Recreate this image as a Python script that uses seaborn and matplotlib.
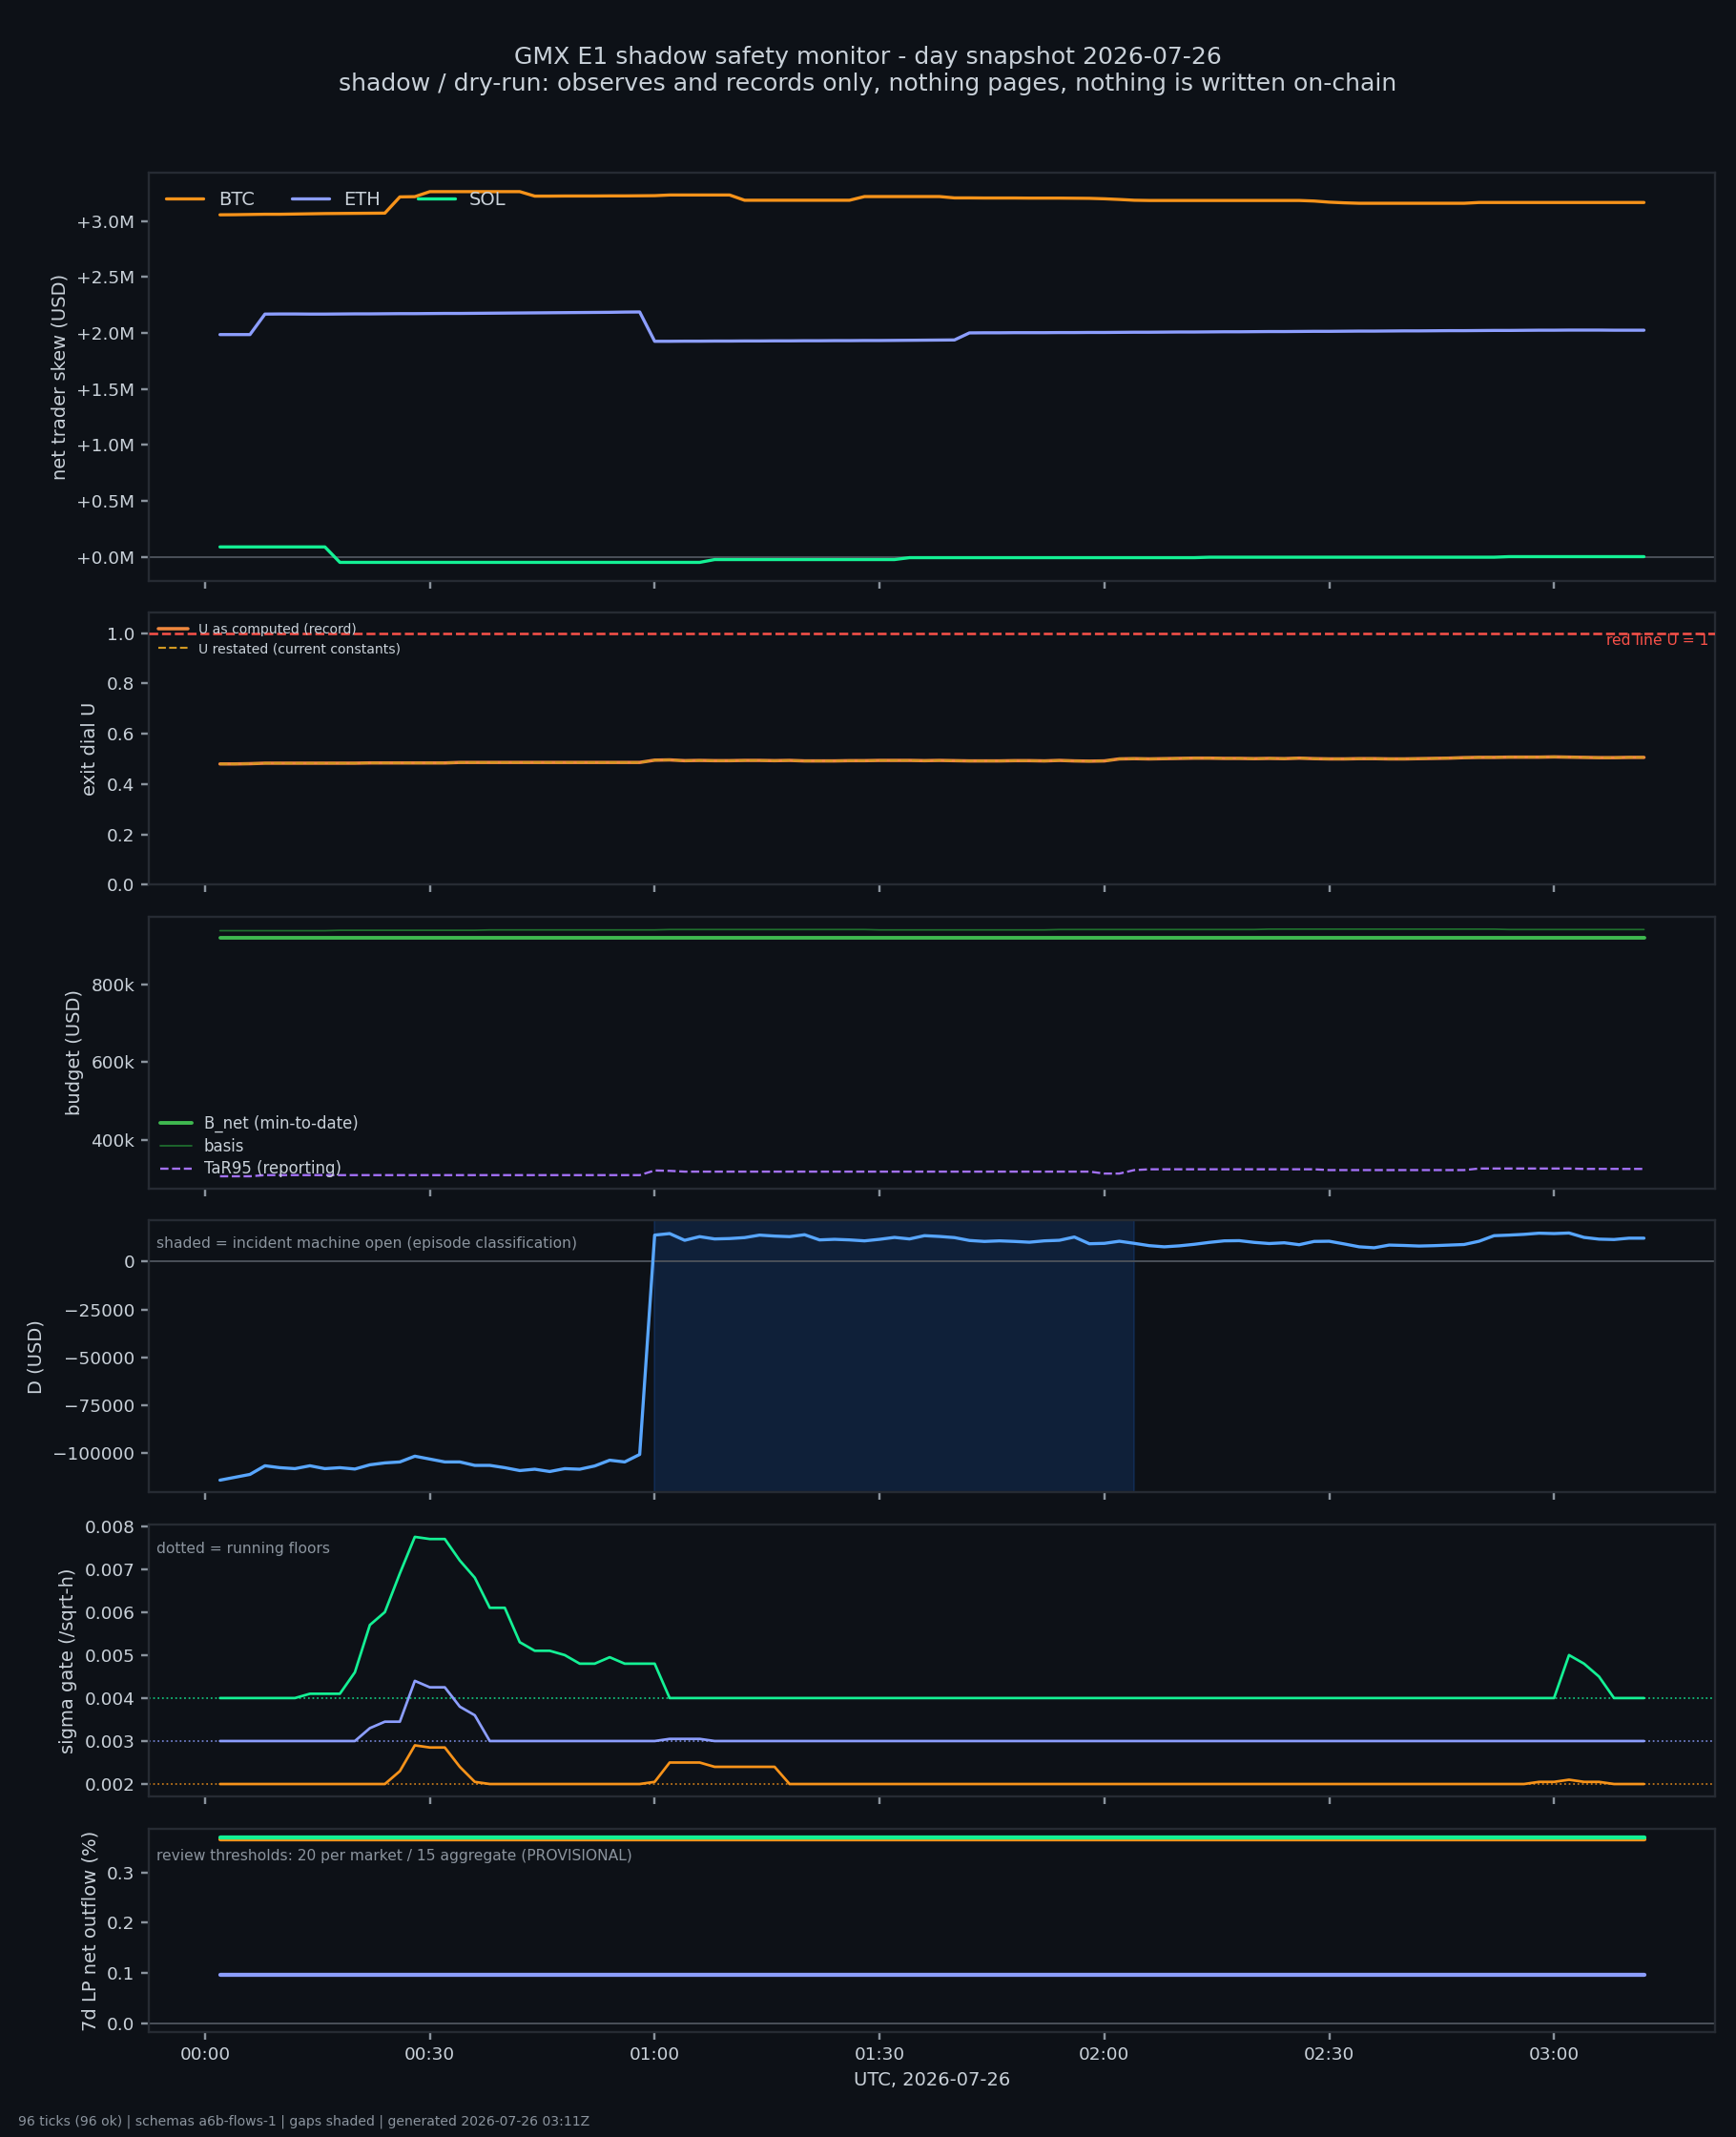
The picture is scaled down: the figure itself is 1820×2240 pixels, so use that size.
import matplotlib
matplotlib.use("Agg")
import matplotlib.pyplot as plt
import matplotlib.dates as mdates
import matplotlib.ticker as mticker
import matplotlib.transforms as mtransforms
import numpy as np
import pandas as pd
import seaborn as sns

# 96 ticks, one every 2 minutes
times = pd.date_range("2026-07-26 00:02", periods=96, freq="2min")

# net trader skew, millions USD
btc_skew_m = (
    [3.055, 3.056, 3.058, 3.060, 3.060, 3.062, 3.064, 3.066, 3.067, 3.068, 3.069, 3.070]
    + [3.215, 3.217]
    + [3.262] * 7
    + [3.222, 3.222, 3.223, 3.223, 3.223, 3.224, 3.224, 3.225, 3.226]
    + [3.232] * 5
    + [3.185] * 8
    + [3.218] * 6
    + [3.206, 3.206, 3.205, 3.205, 3.205, 3.204, 3.204, 3.204, 3.203, 3.202]
    + [3.198, 3.192, 3.185]
    + [3.183] * 11
    + [3.178, 3.168, 3.162, 3.158, 3.158]
    + [3.158] * 6
    + [3.165] * 12
)
eth_skew_m = (
    [1.985, 1.985, 1.985]
    + [2.168, 2.169, 2.169, 2.168, 2.168, 2.169, 2.170, 2.170, 2.171, 2.172,
       2.172, 2.173, 2.174, 2.174, 2.175, 2.176, 2.177, 2.178, 2.179, 2.180,
       2.181, 2.182, 2.183, 2.184, 2.186, 2.187]
    + [1.925, 1.925, 1.926, 1.926, 1.927, 1.927, 1.928, 1.928, 1.929, 1.929,
       1.930, 1.930, 1.931, 1.931, 1.932, 1.932, 1.933, 1.934, 1.935, 1.936,
       1.937]
    + [2.000, 2.001, 2.001, 2.002, 2.002, 2.002, 2.003, 2.003, 2.004, 2.004,
       2.005, 2.006, 2.006, 2.007, 2.008, 2.008, 2.009, 2.010, 2.010, 2.011,
       2.012, 2.012, 2.013, 2.014, 2.014, 2.015, 2.016, 2.016, 2.017, 2.018,
       2.018, 2.019, 2.020, 2.020, 2.021, 2.022, 2.022, 2.023, 2.024, 2.024,
       2.025, 2.025, 2.025, 2.024, 2.024, 2.024]
)
sol_skew_m = [0.088] * 8 + [-0.050] * 25 + [-0.025] * 13 + [-0.008] * 20 + [-0.004] * 20 + [0.001] * 10

# exit dial U
u_record = (
    [0.480, 0.480, 0.481]
    + [0.483] * 7
    + [0.484] * 6
    + [0.486] * 13
    + [0.495, 0.496]
    + [0.493, 0.494, 0.493, 0.493, 0.494, 0.494, 0.493, 0.494, 0.492, 0.492,
       0.492, 0.493, 0.493, 0.494, 0.494, 0.494, 0.493, 0.494, 0.493, 0.492,
       0.492, 0.492, 0.493, 0.493, 0.492, 0.494, 0.492, 0.491, 0.492]
    + [0.500, 0.501, 0.500, 0.501, 0.502, 0.503, 0.503, 0.502, 0.502, 0.501,
       0.502, 0.501, 0.503]
    + [0.501, 0.500, 0.500, 0.501, 0.501, 0.500, 0.500, 0.501]
    + [0.502, 0.503, 0.505, 0.506, 0.506, 0.507, 0.507, 0.507, 0.508, 0.507,
       0.506, 0.505, 0.505, 0.506, 0.506]
)
u_restated = list(u_record)
u_red_line = 1.0

# budget, thousands USD
b_net_k = [919] * 96
basis_k = [938] * 8 + [939] * 10 + [940] * 12 + [941] * 14 + [940] * 12 + [941] * 14 + [942] * 16 + [941] * 10
tar95_k = ([306] * 3 + [309] * 26 + [321, 320] + [318] * 28 + [313, 313] + [322]
           + [324] * 12 + [322] * 10 + [326] * 7 + [325] * 5)

# D, USD
d_usd = [
    -114000, -112500, -111000, -106500, -107500, -108000, -106500, -108000, -107500, -108200,
    -106000, -105000, -104500, -101500, -103000, -104500, -104500, -106300, -106300, -107500,
    -109000, -108300, -109500, -108000, -108300, -106600, -103600, -104500, -100600,
    13800, 14600, 11100, 13000, 11800, 12000, 12500, 13800, 13300, 13000,
    14000, 11300, 11600, 11300, 10800, 11600, 12600, 11800, 13500, 13100,
    12500, 11000, 10500, 10800, 10500, 10100, 10800, 11100, 12800, 9300,
    9500, 10600, 9500, 8300, 7700, 8200, 9000, 10000, 10800, 10900,
    10000, 9400, 9800, 8800, 10500, 10600, 9200, 7700, 7200, 8600,
    8400, 8100, 8300, 8600, 8900, 10600, 13500, 13800, 14200, 14800,
    14600, 14900, 12600, 11700, 11500, 12200, 12200,
]
incident_open_idx = 29
incident_close_idx = 61

# sigma gate (/sqrt-h)
sol_sigma = ([0.004] * 6 + [0.0041] * 3
             + [0.0046, 0.0057, 0.0060, 0.0069, 0.00775, 0.0077, 0.0077, 0.0072, 0.0068, 0.0061,
                0.0061, 0.0053, 0.0051, 0.0051, 0.0050, 0.0048, 0.0048, 0.00495, 0.0048, 0.0048, 0.0048]
             + [0.004] * 60 + [0.0050, 0.0048, 0.0045] + [0.004] * 3)
eth_sigma = ([0.003] * 10 + [0.0033, 0.00345, 0.00345, 0.0044, 0.00425, 0.00425, 0.0038, 0.0036]
             + [0.003] * 12 + [0.00305] * 3 + [0.003] * 63)
btc_sigma = ([0.002] * 12 + [0.0023, 0.0029, 0.00285, 0.00285, 0.0024, 0.00205]
             + [0.002] * 11 + [0.00205] + [0.0025] * 3 + [0.0024] * 5 + [0.002] * 50
             + [0.00205, 0.00205, 0.0021, 0.00205, 0.00205] + [0.002] * 3)
sol_floor, eth_floor, btc_floor = 0.004, 0.003, 0.002

# 7d LP net outflow (%)
btc_lp = [0.367] * 96
eth_lp = [0.096] * 96
sol_lp = [0.370] * 96

# colours
BG = "#0d1117"
EDGE = "#262b33"
FG = "#c9d1d9"
MUTED = "#8b949e"
ZERO = "#4a5059"
C_BTC = "#f7931a"
C_ETH = "#8c9eff"
C_SOL = "#14f195"

sns.set_theme(style="dark", rc={
    "figure.facecolor": BG, "axes.facecolor": BG, "axes.edgecolor": EDGE,
    "axes.labelcolor": FG, "text.color": FG, "xtick.color": MUTED, "ytick.color": MUTED,
    "xtick.labelcolor": FG, "ytick.labelcolor": FG,
    "xtick.bottom": True, "ytick.left": True, "axes.grid": False,
    "xtick.major.size": 4, "ytick.major.size": 4,
    "axes.linewidth": 1.2,
})
plt.rcParams["font.family"] = ["DejaVu Sans"]

fig = plt.figure(figsize=(13, 16), dpi=140)
gs = fig.add_gridspec(6, 1, height_ratios=[1.5, 1, 1, 1, 1, 0.75],
                      left=0.0857, right=0.988, top=0.919, bottom=0.049, hspace=0.113)
axes = [fig.add_subplot(gs[0])]
for k in range(1, 6):
    axes.append(fig.add_subplot(gs[k], sharex=axes[0]))

tick_fs = 9.5
label_fs = 10

# 1: net trader skew
ax = axes[0]
sns.lineplot(x=times, y=btc_skew_m, ax=ax, color=C_BTC, lw=1.7, label="BTC")
sns.lineplot(x=times, y=eth_skew_m, ax=ax, color=C_ETH, lw=1.7, label="ETH")
sns.lineplot(x=times, y=sol_skew_m, ax=ax, color=C_SOL, lw=1.7, label="SOL")
ax.axhline(0, color=ZERO, lw=1, zorder=1)
ax.yaxis.set_major_locator(mticker.MultipleLocator(0.5))
ax.yaxis.set_major_formatter(mticker.FuncFormatter(lambda v, p: f"{v:+.1f}M"))
ax.set_ylabel("net trader skew (USD)", fontsize=label_fs)
ax.legend(loc="upper left", ncol=3, frameon=False, fontsize=10, borderaxespad=0.55)

# 2: exit dial U
ax = axes[1]
sns.lineplot(x=times, y=u_record, ax=ax, color="#f0883e", lw=1.8, label="U as computed (record)")
sns.lineplot(x=times, y=u_restated, ax=ax, color="#d29922", lw=1.1, ls="--", label="U restated (current constants)")
ax.axhline(u_red_line, color="#f85149", lw=1.3, ls="--", zorder=3)
ax.text(0.996, u_red_line - 0.003, "red line U = 1", color="#f85149", fontsize=8, ha="right", va="top",
        transform=mtransforms.blended_transform_factory(ax.transAxes, ax.transData))
ax.set_ylim(0, 1.08)
ax.yaxis.set_major_locator(mticker.MultipleLocator(0.2))
ax.yaxis.set_major_formatter(mticker.FormatStrFormatter("%.1f"))
ax.set_ylabel("exit dial U", fontsize=label_fs)
ax.legend(loc="upper left", frameon=False, fontsize=7.2, borderaxespad=0.35, handlelength=2.2,
          labelspacing=0.45)

# 3: budget
ax = axes[2]
sns.lineplot(x=times, y=b_net_k, ax=ax, color="#3fb950", lw=2.0, label="B_net (min-to-date)")
sns.lineplot(x=times, y=basis_k, ax=ax, color="#1f6f2e", lw=0.9, label="basis")
sns.lineplot(x=times, y=tar95_k, ax=ax, color="#a371f7", lw=1.2, ls="--", label="TaR95 (reporting)")
ax.yaxis.set_major_locator(mticker.MultipleLocator(200))
ax.yaxis.set_major_formatter(mticker.FuncFormatter(lambda v, p: f"{v:.0f}k"))
ax.set_ylabel("budget (USD)", fontsize=label_fs)
ax.legend(loc="lower left", frameon=False, fontsize=8.5, borderaxespad=0.3, labelspacing=0.35)

# 4: D
ax = axes[3]
ax.axvspan(times[incident_open_idx], times[incident_close_idx], facecolor="#1f6feb", alpha=0.165,
           edgecolor="#1f6feb", lw=1, zorder=0)
sns.lineplot(x=times, y=d_usd, ax=ax, color="#58a6ff", lw=1.7)
ax.axhline(0, color=ZERO, lw=1, zorder=1)
ax.yaxis.set_major_locator(mticker.MultipleLocator(25000))
ax.set_ylabel("D (USD)", fontsize=label_fs)
ax.text(0.005, 0.915, "shaded = incident machine open (episode classification)", transform=ax.transAxes,
        fontsize=8, color=MUTED, va="center", ha="left")

# 5: sigma gate
ax = axes[4]
sns.lineplot(x=times, y=btc_sigma, ax=ax, color=C_BTC, lw=1.4)
sns.lineplot(x=times, y=eth_sigma, ax=ax, color=C_ETH, lw=1.4)
sns.lineplot(x=times, y=sol_sigma, ax=ax, color=C_SOL, lw=1.4)
ax.axhline(btc_floor, color=C_BTC, lw=0.9, ls=":", alpha=0.8, zorder=1)
ax.axhline(eth_floor, color=C_ETH, lw=0.9, ls=":", alpha=0.8, zorder=1)
ax.axhline(sol_floor, color=C_SOL, lw=0.9, ls=":", alpha=0.8, zorder=1)
ax.yaxis.set_major_locator(mticker.MultipleLocator(0.001))
ax.yaxis.set_major_formatter(mticker.FormatStrFormatter("%.3f"))
ax.set_ylabel("sigma gate (/sqrt-h)", fontsize=label_fs)
ax.text(0.005, 0.91, "dotted = running floors", transform=ax.transAxes,
        fontsize=8, color=MUTED, va="center", ha="left")

# 6: LP outflow
ax = axes[5]
sns.lineplot(x=times, y=btc_lp, ax=ax, color=C_BTC, lw=2.2)
sns.lineplot(x=times, y=eth_lp, ax=ax, color=C_ETH, lw=2.2)
sns.lineplot(x=times, y=sol_lp, ax=ax, color=C_SOL, lw=2.2)
ax.axhline(0, color=ZERO, lw=1, zorder=1)
ax.yaxis.set_major_locator(mticker.MultipleLocator(0.1))
ax.yaxis.set_major_formatter(mticker.FormatStrFormatter("%.1f"))
ax.set_ylabel("7d LP net outflow (%)", fontsize=label_fs)
ax.text(0.005, 0.865, "review thresholds: 20 per market / 15 aggregate (PROVISIONAL)", transform=ax.transAxes,
        fontsize=8, color=MUTED, va="center", ha="left")

for i, ax in enumerate(axes):
    for s in ax.spines.values():
        s.set_color(EDGE)
    ax.tick_params(labelsize=tick_fs)
    if i < 5:
        ax.tick_params(labelbottom=False)
    ax.set_xlabel("")

axes[-1].xaxis.set_major_locator(mdates.MinuteLocator(byminute=[0, 30]))
axes[-1].xaxis.set_major_formatter(mdates.DateFormatter("%H:%M"))
axes[-1].set_xlabel("UTC, 2026-07-26", fontsize=label_fs)

fig.suptitle("GMX E1 shadow safety monitor - day snapshot 2026-07-26\n"
             "shadow / dry-run: observes and records only, nothing pages, nothing is written on-chain",
             y=0.9671, va="center", fontsize=12.9, color=FG)
fig.text(0.0102, 0.0071, "96 ticks (96 ok) | schemas a6b-flows-1 | gaps shaded | generated 2026-07-26 03:11Z",
         fontsize=7.2, color=MUTED, va="center", ha="left")

fig.savefig("out.png", dpi=140, facecolor=BG)
